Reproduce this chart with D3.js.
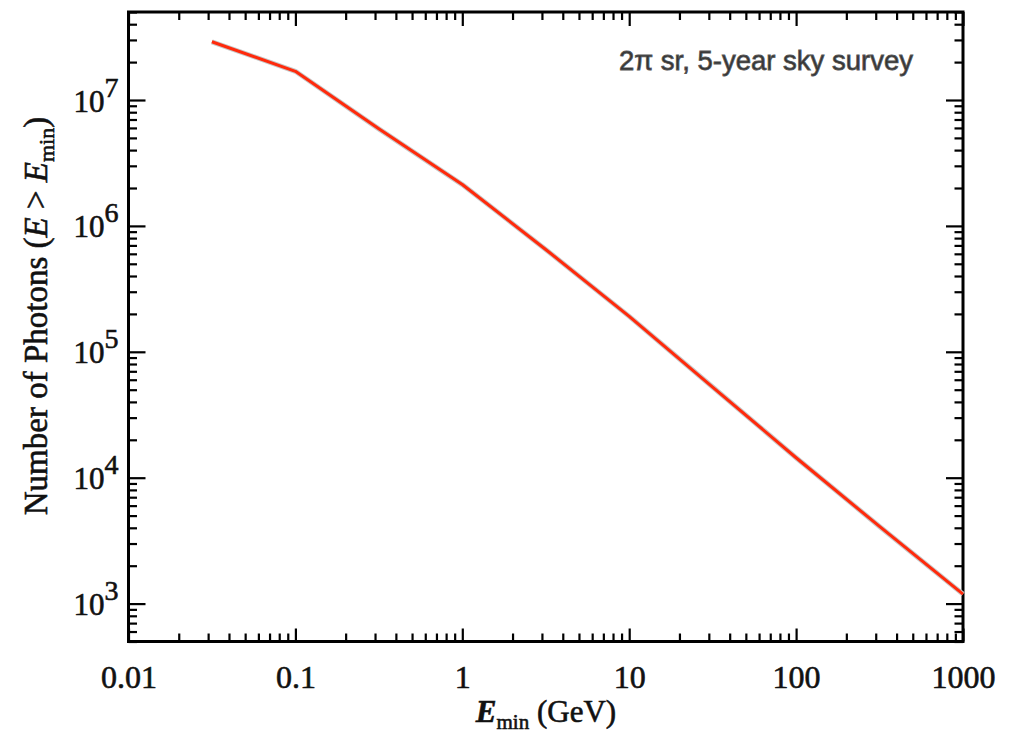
<!DOCTYPE html>
<html>
<head>
<meta charset="utf-8">
<script src="https://cdn.jsdelivr.net/npm/d3@7"></script>
<style>
  body { margin: 0; background: #fff; }
  svg { display: block; }
</style>
</head>
<body>
<div class="canvas"></div>
<script>
// data
const energy = [0.0316, 0.1, 0.316, 1, 3.16, 10, 31.6, 100, 316, 1000];
const photons = [2.9e7, 1.69e7, 5.9e6, 2.13e6, 6.5e5, 1.91e5, 5.25e4, 1.44e4, 4.1e3, 1.19e3];
const xMajor = [0.01, 0.1, 1, 10, 100, 1000];
const xLabels = ['0.01', '0.1', '1', '10', '100', '1000'];
const yMajor = [1e3, 1e4, 1e5, 1e6, 1e7];
const yExps = ['3', '4', '5', '6', '7'];
const note = '2\u03c0 sr, 5-year sky survey';

const margin = { top: 12, right: 55, bottom: 94.5, left: 128.5 };
const width = 1018, height = 736;
const graphWidth = width - margin.left - margin.right;
const graphHeight = height - margin.top - margin.bottom;

const serif = '"Liberation Serif", "Times New Roman", serif';

const svg = d3.select('.canvas').append('svg')
  .attr('width', width)
  .attr('height', height);

const graph = svg.append('g')
  .attr('transform', `translate(${margin.left}, ${margin.top})`);

const x = d3.scaleLog().domain([0.01, 1000]).range([0, graphWidth]);
const y = d3.scaleLog().domain([500, 5e7]).range([graphHeight, 0]);

// minor ticks: 2..9 in every decade, inside the domain
const minorOf = (scale) => {
  const [a, b] = scale.domain();
  const out = [];
  for (let e = Math.floor(Math.log10(a)); e <= Math.ceil(Math.log10(b)); e++) {
    for (let k = 2; k <= 9; k++) {
      const v = k * Math.pow(10, e);
      if (v >= a * 0.999 && v <= b * 1.001) out.push(v);
    }
  }
  return out;
};
const xMinor = minorOf(x);
const yMinor = minorOf(y);

const tickStyle = g => {
  g.select('.domain').remove();
  g.selectAll('line').attr('stroke', '#000').attr('stroke-width', 2.2);
};

// x ticks bottom / top
graph.append('g').attr('transform', `translate(0,${graphHeight})`)
  .call(d3.axisBottom(x).tickValues(xMinor).tickSize(-8).tickFormat(''))
  .call(tickStyle);
graph.append('g').attr('transform', `translate(0,${graphHeight})`)
  .call(d3.axisBottom(x).tickValues(xMajor).tickSize(-13).tickPadding(24).tickFormat((d, i) => xLabels[i]))
  .call(tickStyle)
  .call(g => g.selectAll('text')
    .attr('font-family', serif)
    .attr('font-size', 32)
    .attr('fill', '#111')
    .attr('stroke', '#111')
    .attr('stroke-width', 0.6));
graph.append('g')
  .call(d3.axisTop(x).tickValues(xMinor).tickSize(-8).tickFormat(''))
  .call(tickStyle);
graph.append('g')
  .call(d3.axisTop(x).tickValues(xMajor).tickSize(-14).tickFormat(''))
  .call(tickStyle);

// y ticks left / right
graph.append('g')
  .call(d3.axisLeft(y).tickValues(yMinor).tickSize(-8.5).tickFormat(''))
  .call(tickStyle);
const yAxisGroup = graph.append('g')
  .call(d3.axisLeft(y).tickValues(yMajor).tickSize(-17).tickFormat(''))
  .call(tickStyle);
graph.append('g').attr('transform', `translate(${graphWidth},0)`)
  .call(d3.axisRight(y).tickValues(yMinor).tickSize(-8.5).tickFormat(''))
  .call(tickStyle);
graph.append('g').attr('transform', `translate(${graphWidth},0)`)
  .call(d3.axisRight(y).tickValues(yMajor).tickSize(-17).tickFormat(''))
  .call(tickStyle);

// y labels as 10^n
yAxisGroup.selectAll('.tick').each(function(d, i) {
  const t = d3.select(this).append('text')
    .attr('x', -10)
    .attr('y', 11)
    .attr('text-anchor', 'end')
    .attr('font-family', serif)
    .attr('font-size', 31)
    .attr('fill', '#111')
    .attr('stroke', '#111')
    .attr('stroke-width', 0.6);
  t.append('tspan').text('10');
  t.append('tspan').attr('dy', -15).attr('font-size', 28).text(yExps[i]);
});

// frame
graph.append('rect')
  .attr('width', graphWidth)
  .attr('height', graphHeight)
  .attr('fill', 'none')
  .attr('stroke', '#000')
  .attr('stroke-width', 3);

// the curve
const points = energy.map((e, i) => [e, photons[i]]);
const line = d3.line()
  .x(d => x(d[0]))
  .y(d => y(d[1]));

graph.append('path')
  .datum(points)
  .attr('fill', 'none')
  .attr('stroke', '#c8c8c8')
  .attr('stroke-width', 5)
  .attr('stroke-linejoin', 'round')
  .attr('d', line);
graph.append('path')
  .datum(points)
  .attr('fill', 'none')
  .attr('stroke', '#ff2a0c')
  .attr('stroke-width', 3)
  .attr('stroke-linejoin', 'round')
  .attr('d', line);

// annotation
graph.append('text')
  .attr('x', graphWidth - 50)
  .attr('y', 58)
  .attr('text-anchor', 'end')
  .attr('font-family', '"Liberation Sans", Arial, sans-serif')
  .attr('font-size', 27.5)
  .attr('fill', '#333')
  .attr('stroke', '#555')
  .attr('stroke-width', 0.8)
  .text(note);

// axis titles
const xTitle = svg.append('text')
  .attr('x', 546)
  .attr('y', 722)
  .attr('text-anchor', 'middle')
  .attr('font-family', serif)
  .attr('font-size', 31)
  .attr('fill', '#111')
  .attr('stroke', '#111')
  .attr('stroke-width', 0.6);
xTitle.append('tspan').attr('font-style', 'italic').attr('font-weight', 'bold').text('E');
xTitle.append('tspan').attr('font-size', 21).attr('dy', 7).text('min');
xTitle.append('tspan').attr('dy', -7).text(' (GeV)');

const yTitle = svg.append('text')
  .attr('transform', 'translate(47,316) rotate(-90)')
  .attr('text-anchor', 'middle')
  .attr('font-family', serif)
  .attr('font-size', 33)
  .attr('fill', '#111')
  .attr('stroke', '#111')
  .attr('stroke-width', 0.6);
yTitle.append('tspan').text('Number of Photons (');
yTitle.append('tspan').attr('font-style', 'italic').text('E');
yTitle.append('tspan').text(' > ');
yTitle.append('tspan').attr('font-style', 'italic').text('E');
yTitle.append('tspan').attr('font-size', 22).attr('dy', 7).text('min');
yTitle.append('tspan').attr('dy', -7).text(')');
</script>
</body>
</html>
